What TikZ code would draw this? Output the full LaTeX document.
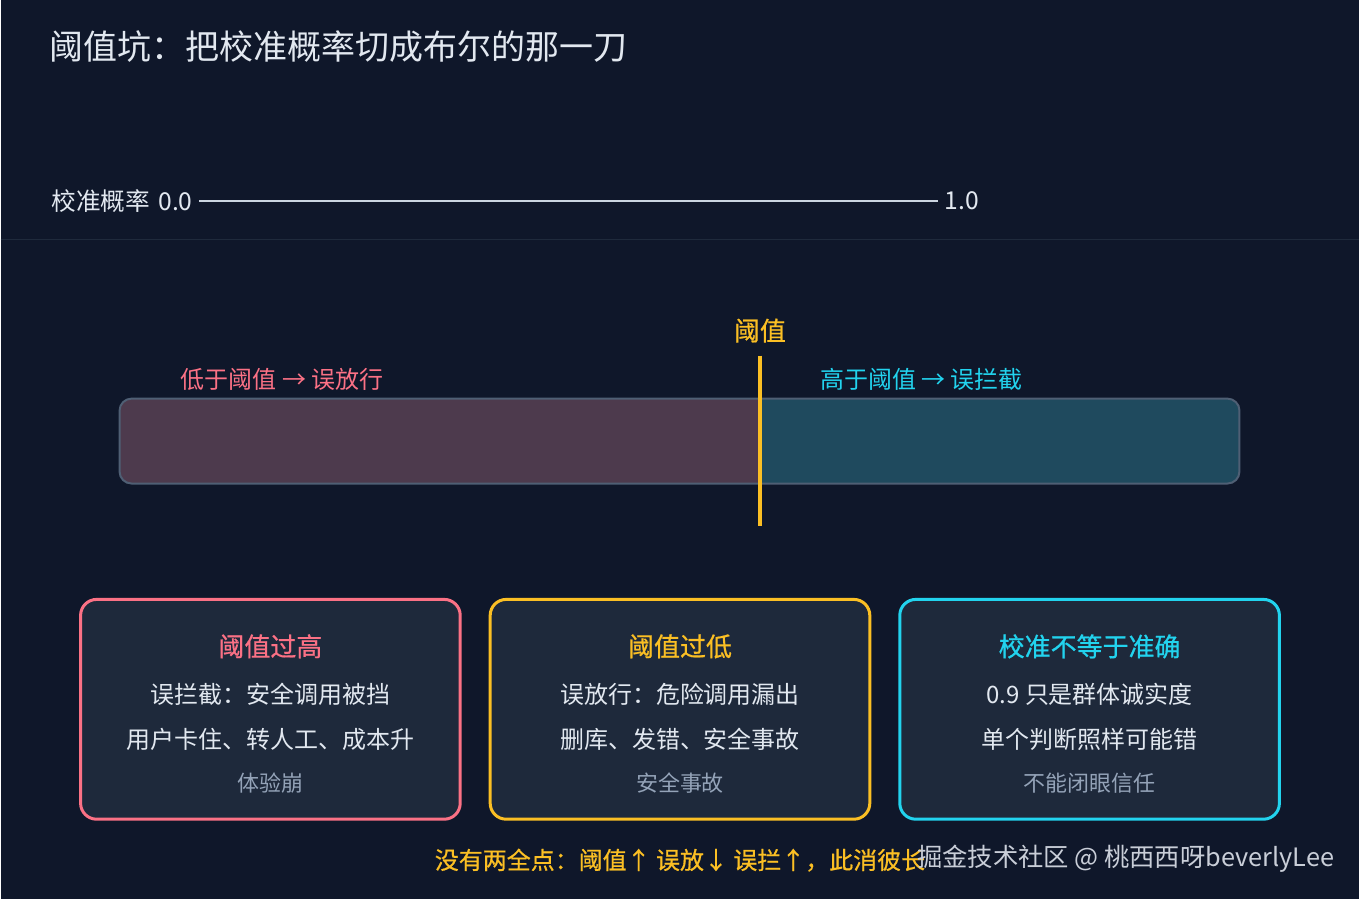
\documentclass[tikz,border=0pt]{standalone}
\usepackage{fontspec}
\setmainfont{Noto Sans CJK SC}
\usepackage{xcolor}

\definecolor{bgnavy}{HTML}{0F172A}
\definecolor{cardfill}{HTML}{1E293B}
\definecolor{rulegray}{HTML}{1F2A3C}
\definecolor{axisgray}{HTML}{CBD5E1}
\definecolor{textlight}{HTML}{E2E8F0}
\definecolor{textdim}{HTML}{94A3B8}
\definecolor{pinkred}{HTML}{FB7185}
\definecolor{ambery}{HTML}{FBBF24}
\definecolor{cyanb}{HTML}{22D3EE}
\definecolor{lowfill}{HTML}{4D3A4D}
\definecolor{highfill}{HTML}{1F4A5E}
\definecolor{barline}{HTML}{4F5F74}
\definecolor{markgray}{HTML}{C9CED8}

\newcommand{\medw}{\addfontfeature{FakeBold=0.7}}

\tikzset{
  txt/.style={inner sep=0pt, text=textlight, font=\fontsize{18}{22}\selectfont},
  head/.style={inner sep=0pt, font=\fontsize{19.5}{24}\selectfont\medw},
  dim/.style={inner sep=0pt, text=textdim, font=\fontsize{16.5}{20}\selectfont},
  card/.style={draw, line width=2.25pt, fill=cardfill, rounded corners=12pt,
               minimum width=285pt, minimum height=165pt, inner sep=0pt}
}

\begin{document}
\begin{tikzpicture}[x=0.75pt, y=-0.75pt, >=stealth]
        \fill [bgnavy] (0, 0) rectangle (1360, 900);

        \node [txt, anchor=west, font=\fontsize{25.5}{30}\selectfont] (title) at (49, 47) {阈值坑：把校准概率切成布尔的那一刀};

%       probability axis
        \node [txt, anchor=west, inner sep=5pt, font=\fontsize{18.5}{22}\selectfont] (ax0) at (44, 201) {校准概率\,\,0.0};
        \node [txt, anchor=west, inner sep=5pt, font=\fontsize{18.5}{22}\selectfont] (ax1) at (938, 201) {1.0};
        \draw [axisgray, line width=1.5pt] (ax0.east) -- (ax1.west);

        \coordinate (s0) at (0, 240);
        \coordinate (s1) at (1360, 240);
        \draw [rulegray, line width=1pt] (s0) -- (s1);

%       the bar, split at the threshold
        \begin{scope}
            \clip [rounded corners=9pt] (119, 399) rectangle (1240, 484);
            \fill [lowfill] (119, 399) rectangle (760, 484);
            \fill [highfill] (760, 399) rectangle (1240, 484);
        \end{scope}
        \draw [barline, line width=1.5pt, rounded corners=9pt] (119, 399) rectangle (1240, 484);

        \node [txt, text=pinkred, anchor=west] (low) at (180, 380) {低于阈值 → 误放行};
        \node [txt, text=cyanb, anchor=west] (high) at (820, 380) {高于阈值 → 误拦截};

        \node [head, text=ambery] (thr) at (760, 331) {阈值};
        \coordinate (t0) at (760, 356);
        \coordinate (t1) at (760, 527);
        \draw [ambery, line width=3.2pt] (t0) -- (t1);

%       three cards
        \foreach \i/\x/\col/\hd/\la/\lb/\lc in
        {
            1/270/pinkred/阈值过高/误拦截：安全调用被挡/用户卡住、转人工、成本升/体验崩,
            2/680/ambery/阈值过低/误放行：危险调用漏出/删库、发错、安全事故/安全事故,
            3/1090/cyanb/校准不等于准确/0.9 只是群体诚实度/单个判断照样可能错/不能闭眼信任
        }
        {
            \node [card, draw=\col] (c\i) at (\x, 710) {};
            \node [head, text=\col] (h\i) at (\x, 647) {\hd};
            \node [txt] (a\i) at (\x, 695) {\la};
            \node [txt] (b\i) at (\x, 740) {\lb};
            \node [dim] (d\i) at (\x, 784) {\lc};
        }

        \node [txt, text=ambery, font=\fontsize{18}{22}\selectfont\medw] (note) at (680, 861) {没有两全点：阈值↑ 误放↓ 误拦↑，此消彼长};
        \node [txt, text=markgray, anchor=east, font=\fontsize{19}{22}\selectfont] (mark) at (1335, 860) {掘金技术社区 @ 桃西西呀beverlyLee};
\end{tikzpicture}
\end{document}
